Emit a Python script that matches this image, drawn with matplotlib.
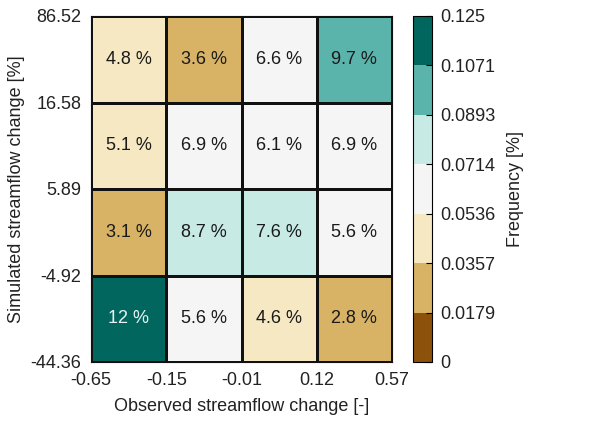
import numpy as np
import matplotlib
matplotlib.use("Agg")
from matplotlib import pyplot as plt
from matplotlib.colors import ListedColormap, BoundaryNorm

plt.rcParams['font.family'] = ['Liberation Sans', 'DejaVu Sans']

# bin edges shown as tick labels
x_edges = ["-0.65", "-0.15", "-0.01", "0.12", "0.57"]
y_edges = ["-44.36", "-4.92", "5.89", "16.58", "86.52"]

# frequency in percent, rows from bottom to top
# (3.56 shows as "3.6 %" but falls in the darker bin, as in the source)
freq_rows = [
    [12.0, 5.6, 4.6, 2.8],
    [3.1, 8.7, 7.6, 5.6],
    [5.1, 6.9, 6.1, 6.9],
    [4.8, 3.56, 6.6, 9.7],
]
cell_labels = [
    ["12 %", "5.6 %", "4.6 %", "2.8 %"],
    ["3.1 %", "8.7 %", "7.6 %", "5.6 %"],
    ["5.1 %", "6.9 %", "6.1 %", "6.9 %"],
    ["4.8 %", "3.6 %", "6.6 %", "9.7 %"],
]

cbar_ticks = ["0", "0.0179", "0.0357", "0.0536", "0.0714", "0.0893", "0.1071", "0.125"]
colors = ["#8c510a", "#d8b365", "#f6e8c3", "#f5f5f5", "#c7eae5", "#5ab4ac", "#01665e"]

freq = np.array(freq_rows) / 100.0
bounds = np.linspace(0, 0.125, 8)
cmap = ListedColormap(colors)
norm = BoundaryNorm(bounds, cmap.N)

fig = plt.figure(figsize=(6.14, 4.32), dpi=100)
ax = fig.add_axes([91 / 614, 1 - 362 / 432, 301 / 614, 346 / 432])
cax = fig.add_axes([413 / 614, 1 - 362 / 432, 19 / 614, 346 / 432])

mesh = ax.pcolormesh(np.arange(5), np.arange(5), freq, cmap=cmap, norm=norm,
                     edgecolors="#111111", linewidth=0.8)
for i in range(4):
    for j in range(4):
        col = "#e8f4f2" if freq[i, j] > 0.107 else "#1a1a1a"
        ax.text(j + 0.5, i + 0.5, cell_labels[i][j], ha="center", va="center",
                fontsize=13, color=col)

ax.set_xlim(0, 4)
ax.set_ylim(0, 4)
ax.set_xticks(np.arange(5))
ax.set_xticklabels(x_edges)
ax.set_yticks(np.arange(5))
ax.set_yticklabels(y_edges)
ax.tick_params(length=0, labelsize=13, pad=7, labelcolor="#222222")
for s in ax.spines.values():
    s.set_linewidth(0.8)
    s.set_color("#111111")
ax.set_xlabel("Observed streamflow change [-]", fontsize=13, labelpad=7, color="#222222")
ax.set_ylabel("Simulated streamflow change [%]", fontsize=13, color="#222222")
ax.yaxis.set_label_coords(-0.22, 0.5)

cb = fig.colorbar(mesh, cax=cax, boundaries=bounds, ticks=bounds)
cb.ax.set_yticklabels(cbar_ticks)
cb.ax.tick_params(labelsize=13, direction="in", length=4, width=0.8, pad=6,
                  labelcolor="#222222")
cb.outline.set_linewidth(0.8)
cb.set_label("Frequency [%]", fontsize=13, labelpad=8, color="#222222")

fig.savefig("out.png", dpi=100)
